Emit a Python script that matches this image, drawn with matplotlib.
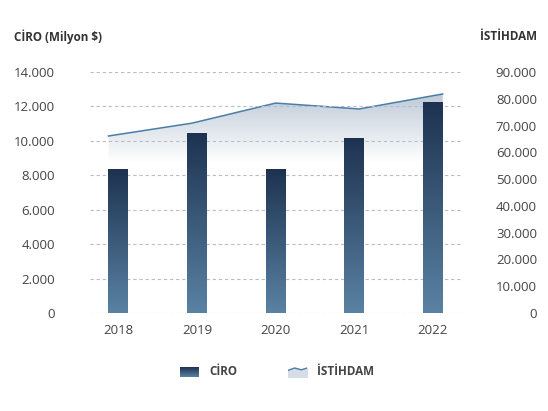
import matplotlib.pyplot as plt
import numpy as np
from matplotlib.colors import LinearSegmentedColormap
from matplotlib.patches import Polygon

plt.rcParams['font.family'] = ['Open Sans', 'DejaVu Sans']

years = ['2018', '2019', '2020', '2021', '2022']
ciro = [8370, 10460, 8370, 10170, 12270]
istihdam = [66100, 70900, 78400, 76200, 81800]

left_ticks = [0, 2000, 4000, 6000, 8000, 10000, 12000, 14000]
right_ticks = [0, 10000, 20000, 30000, 40000, 50000, 60000, 70000, 80000, 90000]

def fmt(v):
    return '{:,}'.format(v).replace(',', '.')

W, H = 548, 411
fig = plt.figure(figsize=(W / 100, H / 100), dpi=100)
ax = fig.add_axes([90 / W, 1 - 313 / H, (462 - 90) / W, (313 - 72) / H])
ax2 = ax.twinx()

x = np.arange(len(years))
bw = 0.25
ax.set_xlim(-0.36, 4.37)
ax.set_ylim(0, 14000)
ax2.set_ylim(0, 90000)

bar_cmap = LinearSegmentedColormap.from_list('bars', ['#5a82a3', '#1d3250'])
grad = np.linspace(0, 1, 256).reshape(-1, 1)

# bars, each with its own vertical gradient
bars = ax.bar(x, ciro, width=bw, color='none', zorder=3)
for b in bars:
    x0, w, h = b.get_x(), b.get_width(), b.get_height()
    im = ax.imshow(grad, cmap=bar_cmap, aspect='auto', origin='lower',
                   extent=[x0, x0 + w, 0, h], vmin=0, vmax=1, zorder=3)
    im.set_clip_path(b)

# line on right axis, stretched from first bar edge to last bar edge
lx = np.linspace(x[0] - bw / 2, x[-1] + bw / 2, len(years))
ax2.plot(lx, istihdam, color='#4a7ea6', lw=1.1, zorder=5)

# fading fill under line
fill_rgba = np.zeros((256, 1, 4))
fill_rgba[..., 0] = 0.68
fill_rgba[..., 1] = 0.74
fill_rgba[..., 2] = 0.81
alpha = np.clip((np.linspace(0, 90000, 256) - 56000) / (82000 - 56000), 0, 1)
fill_rgba[:, 0, 3] = alpha * 0.8
poly = Polygon(np.column_stack([np.r_[lx, lx[::-1]],
                                np.r_[istihdam, [0] * len(lx)]]),
               closed=True, facecolor='none', edgecolor='none')
ax2.add_patch(poly)
fim = ax2.imshow(fill_rgba, aspect='auto', origin='lower',
                 extent=[lx[0], lx[-1], 0, 90000], zorder=1)
fim.set_clip_path(poly)
ax2.set_xlim(-0.36, 4.37)
ax2.set_ylim(0, 90000)
ax.set_zorder(2)
ax2.set_zorder(1)
ax.patch.set_visible(False)

# grid
for t in left_ticks:
    ax.axhline(t, color='#b8bccb', lw=0.8, ls=(0, (3, 2.5)), zorder=0)

for a in (ax, ax2):
    for s in a.spines.values():
        s.set_visible(False)
    a.tick_params(length=0, labelsize=9.5, colors='#444444')

ax.set_xticks(x)
ax.set_xticklabels(years)
ax.tick_params(axis='x', pad=8)
ax.set_yticks(left_ticks)
ax.set_yticklabels([fmt(t) for t in left_ticks])
ax.tick_params(axis='y', pad=25)
ax2.set_yticks(right_ticks)
ax2.set_yticklabels([fmt(t) for t in right_ticks], ha='right')
ax2.tick_params(axis='y', pad=54)

fig.text(14 / W, 1 - 37 / H, 'CİRO (Milyon $)', fontsize=8.4, fontweight='bold',
         color='#333333', va='center', ha='left')
fig.text(537 / W, 1 - 37 / H, 'İSTİHDAM', fontsize=8.4, fontweight='bold',
         color='#333333', va='center', ha='right')

# legend
lg = fig.add_axes([180 / W, 1 - 377 / H, 19 / W, 10 / H])
lg.imshow(grad, cmap=bar_cmap, aspect='auto', origin='lower', extent=[0, 1, 0, 1])
lg.axis('off')
fig.text(209 / W, 1 - 371 / H, 'CİRO', fontsize=8.4, fontweight='bold',
         color='#444444', va='center')

lg2 = fig.add_axes([288 / W, 1 - 377 / H, 19 / W, 12 / H])
ix = np.array([0, 0.35, 0.7, 1.0])
iy = np.array([0.55, 0.75, 0.6, 0.75])
lg2.fill_between(ix, iy, 0, color='#d5dde6')
lg2.plot(ix, iy, color='#4a7ea6', lw=1)
lg2.set_xlim(0, 1)
lg2.set_ylim(0, 1)
lg2.axis('off')
fig.text(317 / W, 1 - 371 / H, 'İSTİHDAM', fontsize=8.4, fontweight='bold',
         color='#444444', va='center')

fig.savefig('out.png', dpi=100)
